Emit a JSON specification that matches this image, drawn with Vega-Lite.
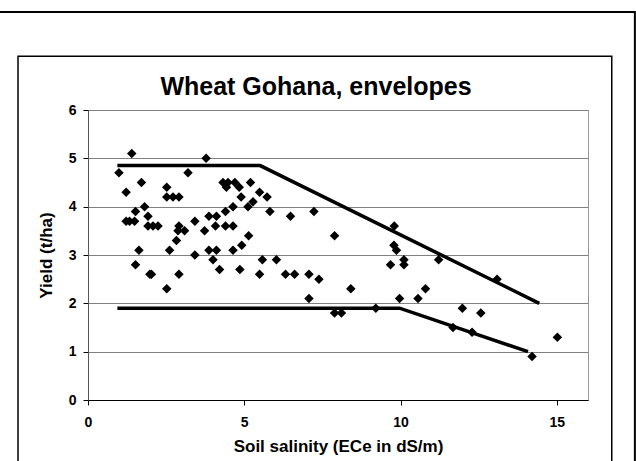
{
  "$schema": "https://vega.github.io/schema/vega-lite/v6.json",
  "autosize": "none",
  "width": 500,
  "height": 290,
  "padding": {"left": 88, "top": 110, "right": 48, "bottom": 61},
  "background": "white",
  "title": {
    "text": "Wheat Gohana, envelopes",
    "font": "Liberation Sans",
    "fontSize": 25,
    "fontWeight": "bold",
    "color": "black",
    "anchor": "middle",
    "baseline": "alphabetic",
    "dx": -22,
    "dy": 125,
    "offset": 16
  },
  "config": {
    "view": {"stroke": "#999999", "strokeWidth": 1},
    "axis": {
      "labelFont": "Liberation Sans",
      "labelFontWeight": "bold",
      "labelFontSize": 14,
      "labelColor": "black",
      "titleFont": "Liberation Sans",
      "titleFontWeight": "bold",
      "titleFontSize": 17,
      "titleColor": "black",
      "tickColor": "black",
      "tickSize": 5,
      "domainColor": "black"
    }
  },
  "datasets": {
    "frame": [{"id": 1}],
    "points": [
      {"ece": 1.40, "yield": 5.1}, {"ece": 3.78, "yield": 5.0}, {"ece": 0.99, "yield": 4.7}, {"ece": 3.20, "yield": 4.7},
      {"ece": 1.71, "yield": 4.5}, {"ece": 1.22, "yield": 4.3}, {"ece": 2.52, "yield": 4.4}, {"ece": 2.52, "yield": 4.2},
      {"ece": 2.72, "yield": 4.2}, {"ece": 2.91, "yield": 4.2}, {"ece": 4.32, "yield": 4.5}, {"ece": 4.48, "yield": 4.5},
      {"ece": 4.70, "yield": 4.5}, {"ece": 4.43, "yield": 4.4}, {"ece": 4.84, "yield": 4.4}, {"ece": 5.20, "yield": 4.5},
      {"ece": 4.90, "yield": 4.2}, {"ece": 5.28, "yield": 4.1}, {"ece": 5.12, "yield": 4.0}, {"ece": 4.64, "yield": 4.0},
      {"ece": 4.40, "yield": 3.9}, {"ece": 5.49, "yield": 4.3}, {"ece": 5.73, "yield": 4.2}, {"ece": 5.82, "yield": 3.9},
      {"ece": 6.48, "yield": 3.8}, {"ece": 7.23, "yield": 3.9}, {"ece": 1.52, "yield": 3.9}, {"ece": 1.81, "yield": 4.0},
      {"ece": 1.22, "yield": 3.7}, {"ece": 1.33, "yield": 3.7}, {"ece": 1.49, "yield": 3.7}, {"ece": 1.92, "yield": 3.8},
      {"ece": 1.92, "yield": 3.6}, {"ece": 2.08, "yield": 3.6}, {"ece": 2.24, "yield": 3.6}, {"ece": 2.91, "yield": 3.6},
      {"ece": 2.88, "yield": 3.5}, {"ece": 3.09, "yield": 3.5}, {"ece": 2.83, "yield": 3.3}, {"ece": 3.42, "yield": 3.7},
      {"ece": 3.73, "yield": 3.5}, {"ece": 3.87, "yield": 3.8}, {"ece": 4.11, "yield": 3.8}, {"ece": 4.08, "yield": 3.6},
      {"ece": 4.40, "yield": 3.6}, {"ece": 4.64, "yield": 3.6}, {"ece": 5.14, "yield": 3.4}, {"ece": 1.63, "yield": 3.1},
      {"ece": 2.61, "yield": 3.1}, {"ece": 3.42, "yield": 3.0}, {"ece": 3.87, "yield": 3.1}, {"ece": 4.11, "yield": 3.1},
      {"ece": 4.64, "yield": 3.1}, {"ece": 4.92, "yield": 3.2}, {"ece": 4.00, "yield": 2.9}, {"ece": 1.52, "yield": 2.8},
      {"ece": 1.98, "yield": 2.6}, {"ece": 2.03, "yield": 2.6}, {"ece": 2.91, "yield": 2.6}, {"ece": 4.21, "yield": 2.7},
      {"ece": 4.86, "yield": 2.7}, {"ece": 5.49, "yield": 2.6}, {"ece": 2.52, "yield": 2.3}, {"ece": 7.89, "yield": 3.4},
      {"ece": 9.80, "yield": 3.6}, {"ece": 9.79, "yield": 3.2}, {"ece": 9.87, "yield": 3.1}, {"ece": 10.11, "yield": 2.9},
      {"ece": 10.11, "yield": 2.8}, {"ece": 9.68, "yield": 2.8}, {"ece": 5.58, "yield": 2.9}, {"ece": 6.03, "yield": 2.9},
      {"ece": 6.32, "yield": 2.6}, {"ece": 6.61, "yield": 2.6}, {"ece": 7.07, "yield": 2.6}, {"ece": 7.39, "yield": 2.5},
      {"ece": 8.41, "yield": 2.3}, {"ece": 7.07, "yield": 2.1}, {"ece": 9.97, "yield": 2.1}, {"ece": 10.56, "yield": 2.1},
      {"ece": 7.89, "yield": 1.8}, {"ece": 8.11, "yield": 1.8}, {"ece": 9.21, "yield": 1.9}, {"ece": 11.22, "yield": 2.9},
      {"ece": 13.09, "yield": 2.5}, {"ece": 10.80, "yield": 2.3}, {"ece": 11.98, "yield": 1.9}, {"ece": 12.57, "yield": 1.8},
      {"ece": 11.68, "yield": 1.5}, {"ece": 12.29, "yield": 1.4}, {"ece": 14.21, "yield": 0.9}, {"ece": 15.02, "yield": 1.3}
    ],
    "envelopes": [
      {"series": "upper", "ece": 0.94, "yield": 4.85},
      {"series": "upper", "ece": 5.51, "yield": 4.85},
      {"series": "upper", "ece": 14.44, "yield": 2.0},
      {"series": "lower", "ece": 0.94, "yield": 1.9},
      {"series": "lower", "ece": 9.97, "yield": 1.9},
      {"series": "lower", "ece": 14.08, "yield": 1.0}
    ]
  },
  "layer": [
    {
      "data": {"name": "points"},
      "mark": {"type": "point", "shape": "diamond", "filled": true, "color": "black", "size": 90, "opacity": 1},
      "encoding": {
        "x": {
          "field": "ece", "type": "quantitative",
          "scale": {"domain": [0, 16], "nice": false},
          "axis": {"values": [0, 5, 10, 15], "grid": false, "title": "Soil salinity (ECe in dS/m)", "labelPadding": 10, "titlePadding": 9, "labelFlush": false}
        },
        "y": {
          "field": "yield", "type": "quantitative",
          "scale": {"domain": [0, 6], "nice": false},
          "axis": {"values": [0, 1, 2, 3, 4, 5, 6], "grid": true, "gridColor": "#808080", "gridWidth": 1, "domainColor": "#555555", "title": "Yield (t/ha)", "labelPadding": 7, "titlePadding": 13}
        }
      }
    },
    {
      "data": {"name": "envelopes"},
      "mark": {"type": "line", "color": "black", "strokeWidth": 3.5},
      "encoding": {
        "x": {"field": "ece", "type": "quantitative"},
        "y": {"field": "yield", "type": "quantitative"},
        "detail": {"field": "series"}
      }
    },
    {
      "data": {"name": "frame"},
      "mark": {"type": "rect", "fill": "transparent", "stroke": "black", "strokeWidth": 2, "clip": false},
      "encoding": {
        "x": {"datum": -3.5, "type": "quantitative"},
        "x2": {"datum": 17.5},
        "y": {"datum": 8.03, "type": "quantitative"},
        "y2": {"datum": -2.5}
      }
    },
    {
      "data": {"name": "frame"},
      "mark": {"type": "rect", "fill": "transparent", "stroke": "black", "strokeWidth": 1.5, "clip": false},
      "encoding": {
        "x": {"datum": -2.24, "type": "quantitative"},
        "x2": {"datum": 16.76},
        "y": {"datum": 7.11, "type": "quantitative"},
        "y2": {"datum": -2.5}
      }
    }
  ]
}
